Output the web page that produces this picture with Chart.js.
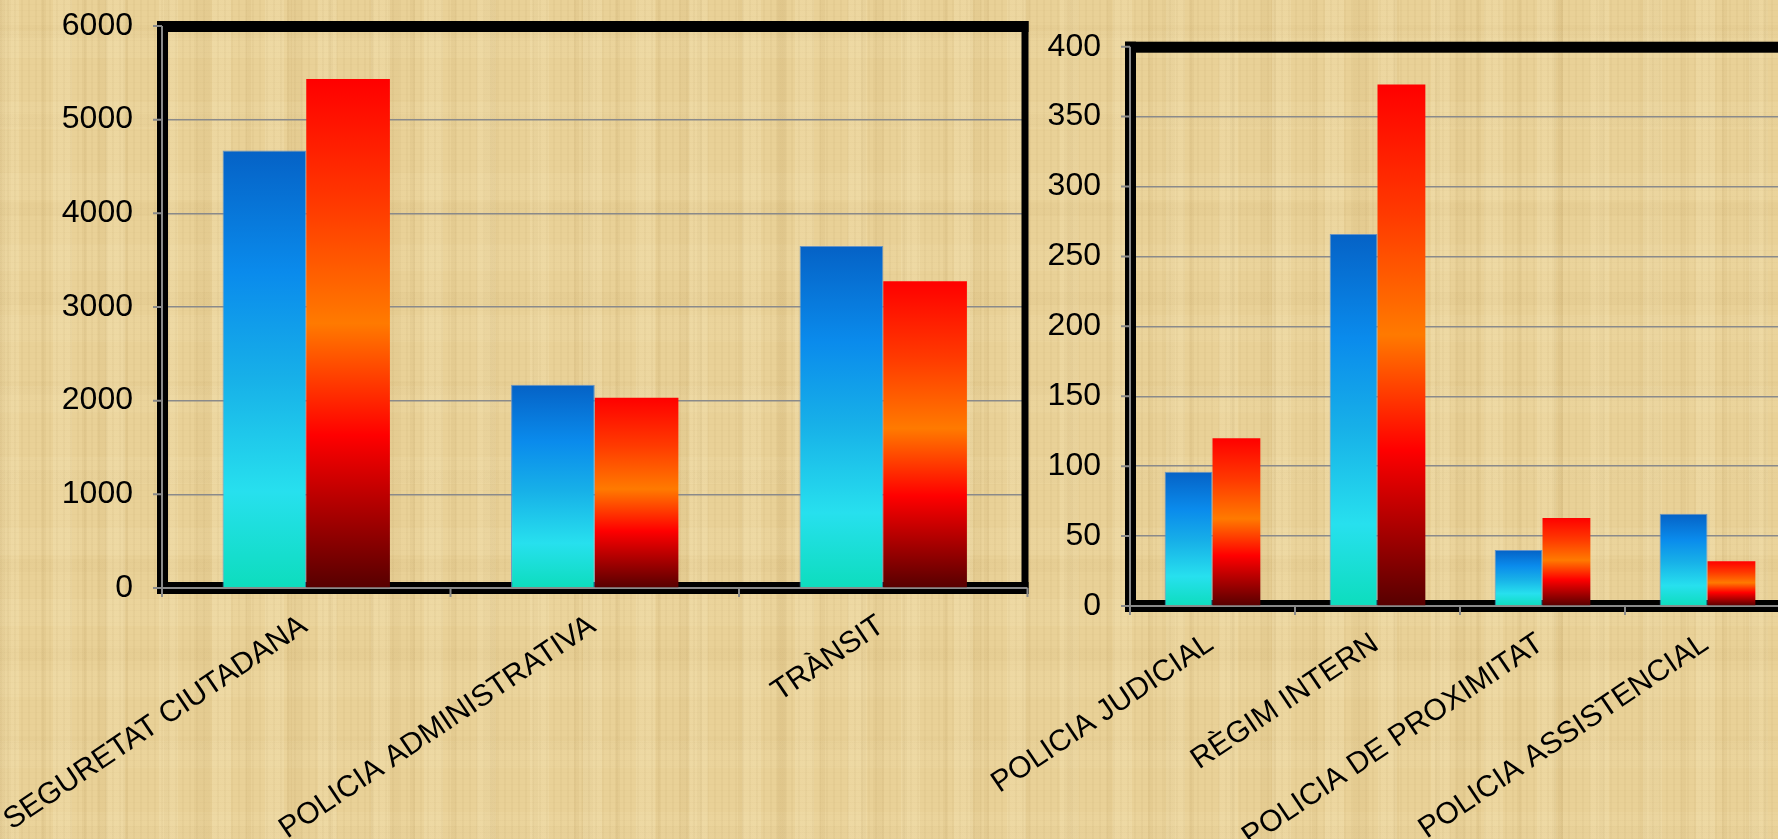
<!DOCTYPE html>
<html>
<head>
<meta charset="utf-8">
<script src="https://cdn.jsdelivr.net/npm/chart.js@4.4.1/dist/chart.umd.min.js"></script>
<style>
  html, body { margin:0; padding:0; width:1778px; height:839px; overflow:hidden; }
  body {
    position:relative;
    background-color:#E9D197;
    background-image:
      repeating-linear-gradient(90deg, rgba(120,85,25,0.04) 0 2px, transparent 2px 7px),
      repeating-linear-gradient(0deg, rgba(120,85,25,0.025) 0 1px, transparent 1px 6px),
      repeating-linear-gradient(90deg, rgba(255,244,205,0.16) 0 19px, transparent 19px 53px),
      repeating-linear-gradient(90deg, rgba(150,110,40,0.06) 0 5px, transparent 5px 41px),
      repeating-linear-gradient(0deg, rgba(255,244,205,0.08) 0 27px, transparent 27px 71px),
      repeating-linear-gradient(90deg, rgba(150,110,40,0.05) 0 11px, transparent 11px 97px),
      repeating-linear-gradient(0deg, rgba(150,110,40,0.03) 0 13px, transparent 13px 89px);
  }
  canvas { position:absolute; top:0; }
  #c1 { left:0; }
  #c2 { left:900px; }
</style>
</head>
<body>
<canvas id="c1" width="1040" height="839"></canvas>
<canvas id="c2" width="920" height="839"></canvas>
<script>
// ---- data ----
const leftCategories = ['SEGURETAT CIUTADANA', 'POLICIA ADMINISTRATIVA', 'TRÀNSIT'];
const leftBlue = [4670, 2170, 3650];
const leftRed  = [5435, 2030, 3275];
const leftTicks = [0, 1000, 2000, 3000, 4000, 5000, 6000];

const rightCategories = ['POLICIA JUDICIAL', 'RÈGIM INTERN', 'POLICIA DE PROXIMITAT', 'POLICIA ASSISTENCIAL'];
const rightBlue = [96, 266, 40, 66];
const rightRed  = [120, 373, 63, 32];
const rightTicks = [0, 50, 100, 150, 200, 250, 300, 350, 400];

// ---- styles ----
const blueStops = [[0, '#0562C6'], [0.28, '#0A8BEC'], [0.52, '#17B0E8'], [0.78, '#27E0EE'], [1, '#0DDDBD']];
const redStops  = [[0, '#FF0000'], [0.25, '#FF3A00'], [0.48, '#FF7A00'], [0.70, '#FF0000'], [1, '#560000']];
const FONT = '"Liberation Sans", Arial, sans-serif';
Chart.defaults.font.family = FONT;
Chart.defaults.color = '#000';

function gradFor(stops) {
  return function (context) {
    const chart = context.chart;
    const { ctx, chartArea, scales } = chart;
    if (!chartArea || context.type !== 'data') return stops[0][1];
    const yTop = scales.y.getPixelForValue(context.raw);
    const yBot = scales.y.getPixelForValue(0);
    const g = ctx.createLinearGradient(0, yTop, 0, yBot);
    stops.forEach(s => g.addColorStop(s[0], s[1]));
    return g;
  };
}

const framePlugin = {
  id: 'frame',
  beforeDatasetsDraw(chart) {
    const { ctx, chartArea: a, scales } = chart;
    const L = a.left, T = a.top, R = a.right, B = a.bottom;
    ctx.save();
    ctx.fillStyle = '#000';
    ctx.fillRect(L - 5, T - 5, R + 1 - (L - 5), 11);      // top
    ctx.fillRect(L - 5, T - 5, 11, B + 6 - (T - 5));      // left wall
    ctx.fillRect(R - 6, T - 5, 7, B + 6 - (T - 5));       // right wall
    ctx.fillRect(L - 5, B - 6, R + 1 - (L - 5), 12);      // bottom
    ctx.strokeStyle = '#8a8a8a';
    ctx.lineWidth = 2;
    ctx.beginPath();
    ctx.moveTo(L, T); ctx.lineTo(L, B);
    ctx.moveTo(L - 9, B); ctx.lineTo(R, B);
    scales.y.ticks.forEach(t => {
      const y = scales.y.getPixelForValue(t.value);
      ctx.moveTo(L - 9, y); ctx.lineTo(L, y);
    });
    const n = scales.x.ticks.length;
    for (let i = 0; i <= n; i++) {
      const x = L + i * (R - L) / n;
      ctx.moveTo(x, B); ctx.lineTo(x, B + 9);
    }
    ctx.stroke();
    ctx.restore();
  }
};

function makeChart(id, cats, blue, red, ticks, maxV, yWidth, xHeight, padTop, padRight) {
  return new Chart(document.getElementById(id), {
    type: 'bar',
    data: {
      labels: cats,
      datasets: [
        { data: blue, backgroundColor: gradFor(blueStops), borderColor: 'rgba(90,140,200,0.9)', borderWidth: 1,
          categoryPercentage: 0.58, barPercentage: 1 },
        { data: red, backgroundColor: gradFor(redStops), borderWidth: 0,
          categoryPercentage: 0.58, barPercentage: 1 }
      ]
    },
    options: {
      responsive: false,
      animation: false,
      layout: { padding: { top: padTop, right: padRight, bottom: 0, left: 0 } },
      plugins: { legend: { display: false }, tooltip: { enabled: false }, title: { display: false } },
      scales: {
        x: {
          grid: { display: false, drawTicks: false },
          border: { display: false },
          ticks: { font: { size: 30 }, color: '#000', minRotation: 34, maxRotation: 34, padding: 20, labelOffset: -2, autoSkip: false },
          afterFit(s) { s.height = xHeight; s.paddingLeft = 0; s.paddingRight = 0; s.paddingTop = 0; s.paddingBottom = 0; }
        },
        y: {
          min: 0, max: maxV,
          grid: { color: '#8a8a8a', lineWidth: 1.5, drawTicks: false },
          border: { display: false },
          ticks: { font: { size: 32 }, color: '#000', padding: 29, callback: v => String(v) },
          afterBuildTicks(s) { s.ticks = ticks.map(v => ({ value: v })); },
          afterFit(s) { s.width = yWidth; s.paddingTop = 0; s.paddingBottom = 0; }
        }
      }
    },
    plugins: [framePlugin]
  });
}

makeChart('c1', leftCategories, leftBlue, leftRed, leftTicks, 6000, 162, 251, 26, 12.5);
makeChart('c2', rightCategories, rightBlue, rightRed, rightTicks, 400, 230, 233, 46.7, 30);
</script>
</body>
</html>
